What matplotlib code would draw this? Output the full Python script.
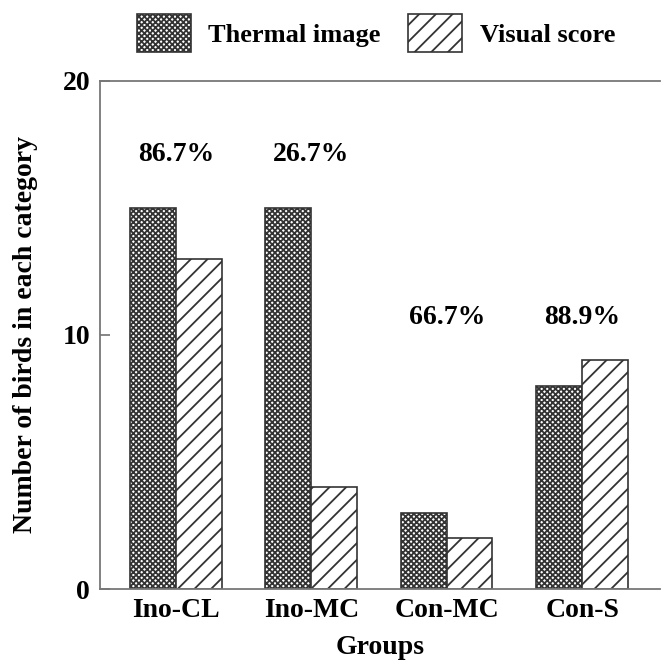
import matplotlib
matplotlib.use("Agg")
import matplotlib.pyplot as plt
import numpy as np

plt.rcParams["font.family"] = ["Liberation Serif", "DejaVu Serif"]
plt.rcParams["font.weight"] = "bold"
plt.rcParams["hatch.linewidth"] = 1.3
plt.rcParams["hatch.color"] = "#222222"

groups = ["Ino-CL", "Ino-MC", "Con-MC", "Con-S"]
thermal = [15, 15, 3, 8]
visual = [13, 4, 2, 9]
pct_labels = ["86.7%", "26.7%", "66.7%", "88.9%"]
pct_y = [16.6, 16.6, 10.2, 10.2]

FS = 20

fig = plt.figure(figsize=(6.62, 6.62), dpi=100)
ax = fig.add_axes([0.151, 0.11, 0.846, 0.768])

x = np.arange(len(groups))
w = 0.338
b1 = ax.bar(x - w / 2, thermal, w, facecolor="white", edgecolor="#333333",
            hatch="xxxxxx", linewidth=1.2, label="Thermal image")
b2 = ax.bar(x + w / 2, visual, w, facecolor="white", edgecolor="#333333",
            hatch="//", linewidth=1.2, label="Visual score")

for xi, lab, yy in zip(x, pct_labels, pct_y):
    ax.text(xi, yy, lab, ha="center", va="bottom", fontsize=FS, fontweight="bold")

ax.set_xlim(-0.56, 3.575)
ax.set_ylim(0, 20)
ax.set_yticks([0, 10, 20])
ax.set_xticks(x)
ax.set_xticklabels(groups)
ax.tick_params(axis="y", direction="in", length=7.2, width=1.1, color="#666666",
               labelsize=FS, pad=7)
ax.tick_params(axis="x", length=0, labelsize=FS, pad=6)
for s in ["left", "top", "bottom"]:
    ax.spines[s].set_color("#777777")
    ax.spines[s].set_linewidth(1.3)
ax.spines["right"].set_visible(False)

ax.set_ylabel("Number of birds in each category", fontsize=FS, fontweight="bold", labelpad=18)
ax.set_xlabel("Groups", fontsize=FS, fontweight="bold", labelpad=9)

fig.legend(handles=[b1, b2], loc="center", bbox_to_anchor=(0.568, 0.95), ncol=2,
           frameon=False, fontsize=19, handlelength=2.05, handleheight=1.8,
           handletextpad=0.65, columnspacing=1.05)

fig.savefig("out.png", dpi=100)
